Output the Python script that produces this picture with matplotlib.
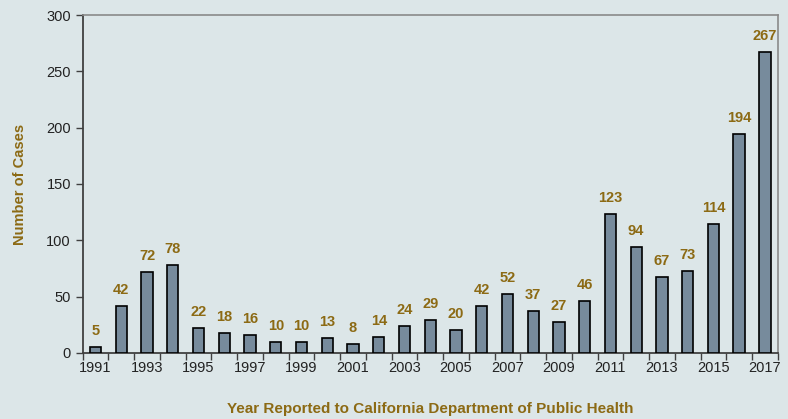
import numpy as np
import matplotlib.pyplot as plt

YEARS = list(range(1991, 2018))
CASES = [5, 42, 72, 78, 22, 18, 16, 10, 10, 13, 8, 14, 24, 29, 20,
         42, 52, 37, 27, 46, 123, 94, 67, 73, 114, 194, 267]

BG = '#dce6e8'
BAR_COLOR = '#778b9c'
LABEL_COLOR = '#8c6a14'

fig = plt.figure(figsize=(7.88, 4.19), dpi=100, facecolor=BG)
ax = fig.add_axes([0.105, 0.158, 0.882, 0.806], facecolor=BG)

x = np.arange(len(YEARS))
ax.bar(x, CASES, width=0.44, color=BAR_COLOR, edgecolor='black', linewidth=1.2, zorder=3)

for xi, v in zip(x, CASES):
    ax.text(xi, v + 8, str(v), ha='center', va='bottom', fontsize=10.5,
            fontweight='bold', color=LABEL_COLOR, family='Liberation Sans')

ax.set_xlim(-0.5, len(YEARS) - 0.5)
ax.set_ylim(0, 300)
ax.set_yticks(range(0, 301, 50))
ax.set_xticks(x[::2])
ax.set_xticklabels([str(y) for y in YEARS[::2]])
ax.set_xticks(np.arange(-0.5, len(YEARS), 1), minor=True)
ax.tick_params(axis='x', which='major', length=0, pad=6)
ax.tick_params(axis='x', which='minor', length=5, width=1, color='#404040', direction='out')
ax.tick_params(axis='y', length=5, width=1, color='#404040', direction='out')
for lab in ax.get_xticklabels() + ax.get_yticklabels():
    lab.set_fontsize(10.5)
    lab.set_family('Liberation Sans')
    lab.set_color('#222222')

ax.spines['left'].set_color('#404040')
ax.spines['bottom'].set_color('#404040')
ax.spines['left'].set_linewidth(1.3)
ax.spines['bottom'].set_linewidth(1.3)
ax.spines['top'].set_color('#8a8a8a')
ax.spines['right'].set_color('#8a8a8a')
ax.spines['top'].set_linewidth(1.2)
ax.spines['right'].set_linewidth(1.2)

ax.set_ylabel('Number of Cases', fontsize=10.5, fontweight='bold', color=LABEL_COLOR,
              family='Liberation Sans', labelpad=14)
ax.set_xlabel('Year Reported to California Department of Public Health', fontsize=11,
              fontweight='bold', color=LABEL_COLOR, family='Liberation Sans', labelpad=19)

fig.savefig('out.png', dpi=100, facecolor=BG)
